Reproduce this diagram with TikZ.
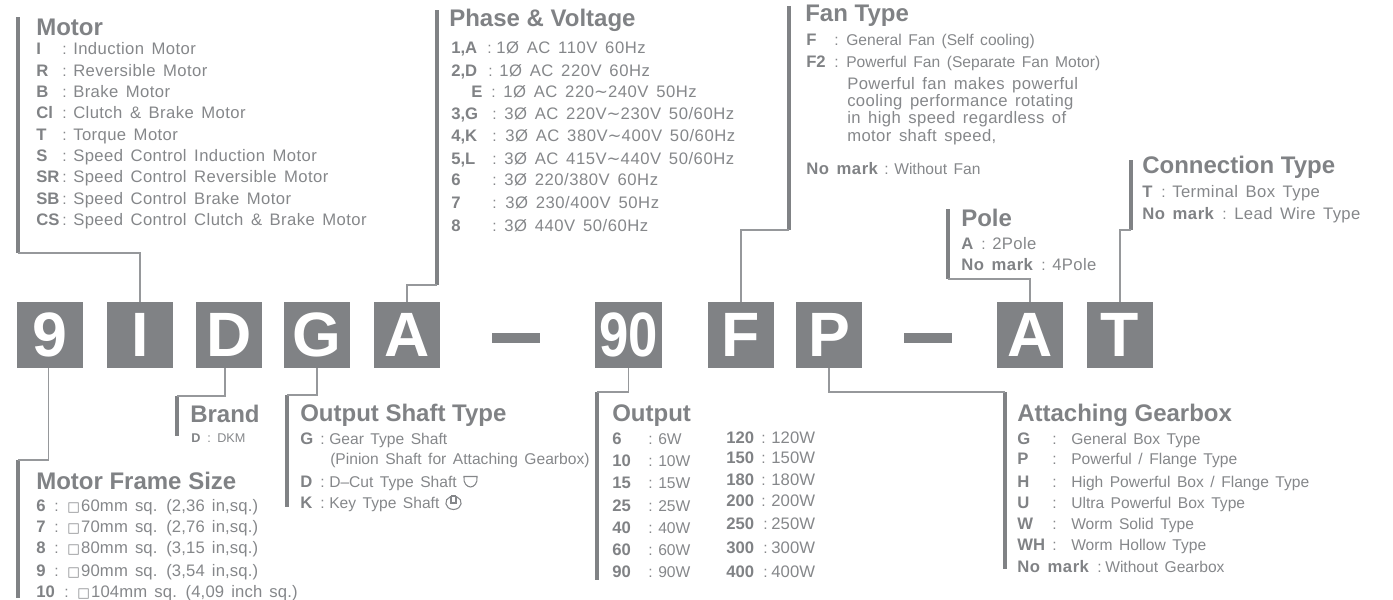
\documentclass[tikz,border=0pt]{standalone}
\usepackage{fontspec}
\setmainfont{Liberation Sans}[WordSpace=1.5]
\newfontfamily\symfont{DejaVu Sans}
\newfontfamily\headfont{Liberation Sans}
\newcommand{\waveto}{{\symfont ∼}}
\usepackage{xcolor}
\definecolor{boxgray}{HTML}{808285}
\definecolor{textgray}{HTML}{85878A}
\definecolor{rulegray}{HTML}{96989B}
\tikzset{
  letterbox/.style={fill=boxgray,text=white,inner sep=0pt,minimum width=49.5pt,minimum height=49.5pt,font=\fontsize{47}{47}\selectfont\bfseries},
  dashbox/.style={fill=boxgray,inner sep=0pt},
  headtext/.style={anchor=base west,yshift=-6.3pt,inner sep=0pt,text=boxgray,font=\fontsize{18}{20}\selectfont\headfont\bfseries},
  keytext/.style={anchor=base west,yshift=-5pt,inner sep=0pt,text=boxgray,font=\fontsize{12.5}{14}\selectfont\bfseries},
  markkey/.style={keytext,font=\fontsize{12.5}{14}\selectfont\bfseries\addfontfeature{LetterSpace=3}},
  valtext/.style={anchor=base west,yshift=-5pt,inner sep=0pt,text=textgray,font=\fontsize{11.7}{14}\selectfont},
  wideval/.style={valtext,font=\fontsize{12.5}{14}\selectfont\addfontfeature{LetterSpace=2.4}},
  phaseval/.style={valtext,font=\fontsize{12.5}{14}\selectfont\addfontfeature{LetterSpace=3.2}},
  frameval/.style={valtext,font=\fontsize{12.5}{14}\selectfont\addfontfeature{LetterSpace=0.8}},
  smalltext/.style={anchor=base west,yshift=-3.8pt,inner sep=0pt,text=textgray,font=\fontsize{9.5}{11}\selectfont},
  thinrule/.style={rulegray,line width=1.1pt},
  thickbar/.style={boxgray,line width=2.6pt}
}
\begin{document}
\begin{tikzpicture}[x=0.75pt,y=-0.75pt]
    \useasboundingbox (0,0) rectangle (1393,600);
    % Code letters
    \foreach \x/\k/\n in {50/9/nine,140/I/motor,229/D/brand,317/G/shaft,407/A/phase,741/F/fan,829/P/gear,1030/A/pole,1120/T/conn}{
      \node[letterbox] (box\n) at (\x,335) {\k};
    }
    \node[letterbox,minimum width=50.5pt] (boxout) at (628.5,335) {\scalebox{0.84}[1]{90}};
    \node[dashbox,minimum width=36pt,minimum height=8pt] (dashone) at (516,338) {};
    \node[dashbox,minimum width=36pt,minimum height=8pt] (dashtwo) at (928,338) {};
    % Motor
    \coordinate (motortop) at (18,17);
    \coordinate (motorfoot) at (18,253);
    \draw[thickbar] (motortop) -- (motorfoot);
    \draw[thinrule] (boxmotor.north) |- (motorfoot);
    \node[headtext] (motorhead) at (36,27) {Motor};
    \foreach \y/\k/\t [count=\i] in {48/I/Induction Motor,70/R/Reversible Motor,91/B/Brake Motor,112/Cl/Clutch \& Brake Motor,134/T/Torque Motor,155/S/Speed Control Induction Motor,176/SR/Speed Control Reversible Motor,198/SB/Speed Control Brake Motor,219/CS/Speed Control Clutch \& Brake Motor}{
      \node[keytext] (motorkey\i) at (36,\y) {\k};
      \node[valtext] (motorsep\i) at (62,\y) {:};
      \node[wideval] (motorval\i) at (73,\y) {\t};
    }
    % Phase and voltage
    \coordinate (phasetop) at (437,10);
    \coordinate (phasefoot) at (437,285);
    \draw[thickbar] (phasetop) -- (phasefoot);
    \draw[thinrule] (boxphase.north) |- (phasefoot);
    \node[headtext] (phasehead) at (449,18) {Phase \& Voltage};
    \foreach \y/\k/\c/\v/\t [count=\i] in {47/{1,A}/487/496/{1Ø AC 110V 60Hz},70/{2,D}/488/499/{1Ø AC 220V 60Hz},113/{3,G}/492/504/{3Ø AC 220V\waveto 230V 50/60Hz},135/{4,K}/492/505/{3Ø AC 380V\waveto 400V 50/60Hz},158/{5,L}/492/504/{3Ø AC 415V\waveto 440V 50/60Hz},179/6/492/504/{3Ø 220/380V 60Hz},202/7/492/505/{3Ø 230/400V 50Hz},225/8/492/504/{3Ø 440V 50/60Hz}}{
      \node[keytext] (phasekey\i) at (451,\y) {\k};
      \node[valtext] (phasesep\i) at (\c,\y) {:};
      \node[phaseval] (phaseval\i) at (\v,\y) {\t};
    }
    \node[keytext] (phasekeyE) at (471,91) {E};
    \node[valtext] (phasesepE) at (491,91) {:};
    \node[phaseval] (phasevalE) at (503,91) {1Ø AC 220\waveto 240V 50Hz};
    % Fan type
    \coordinate (fantop) at (789,6);
    \coordinate (fanfoot) at (789,230);
    \draw[thickbar] (fantop) -- (fanfoot);
    \draw[thinrule] (boxfan.north) |- (fanfoot);
    \node[headtext] (fanhead) at (805,13) {Fan Type};
    \node[keytext] (fankey1) at (806,39) {F};
    \node[valtext] (fansep1) at (834,39) {:};
    \node[valtext] (fanval1) at (846,39) {General Fan (Self cooling)};
    \node[keytext] (fankey2) at (806,61) {F2};
    \node[valtext] (fansep2) at (834,61) {:};
    \node[valtext] (fanval2) at (846,61) {Powerful Fan (Separate Fan Motor)};
    \foreach \y/\t [count=\i] in {83/Powerful fan makes powerful,100/cooling performance rotating,117/in high speed regardless of,135/{motor shaft speed,}}{
      \node[wideval] (fannote\i) at (847,\y) {\t};
    }
    \node[markkey] (fankey3) at (806,168) {No mark};
    \node[valtext] (fansep3) at (884,168) {:};
    \node[valtext] (fanval3) at (894,168) {Without Fan};
    % Pole
    \coordinate (poletop) at (948,209);
    \coordinate (polefoot) at (948,279);
    \draw[thickbar] (poletop) -- (polefoot);
    \draw[thinrule] (boxpole.north) |- (polefoot);
    \node[headtext] (polehead) at (961,218) {Pole};
    \node[keytext] (polekey1) at (961,243) {A};
    \node[valtext] (polesep1) at (981,243) {:};
    \node[wideval] (poleval1) at (992,243) {2Pole};
    \node[markkey] (polekey2) at (961,264) {No mark};
    \node[valtext] (polesep2) at (1041,264) {:};
    \node[wideval] (poleval2) at (1052,264) {4Pole};
    % Connection type
    \coordinate (conntop) at (1131,160);
    \coordinate (connfoot) at (1131,230);
    \draw[thickbar] (conntop) -- (connfoot);
    \draw[thinrule] (boxconn.north) |- (connfoot);
    \node[headtext] (connhead) at (1142,165) {Connection Type};
    \node[keytext] (connkey1) at (1142,191) {T};
    \node[valtext] (connsep1) at (1161,191) {:};
    \node[wideval] (connval1) at (1172,191) {Terminal Box Type};
    \node[markkey] (connkey2) at (1142,213) {No mark};
    \node[valtext] (connsep2) at (1222,213) {:};
    \node[wideval] (connval2) at (1234,213) {Lead Wire Type};
    % Motor frame size
    \coordinate (frametop) at (18,460);
    \coordinate (framefoot) at (18,598);
    \draw[thickbar] (frametop) -- (framefoot);
    \draw[thinrule] ([xshift=-1pt]boxnine.south) |- (frametop);
    \node[headtext] (framehead) at (36,481) {Motor Frame Size};
    \foreach \y/\k/\t [count=\i] in {505/6/60mm sq. (2{,}36 in{,}sq.),526/7/70mm sq. (2{,}76 in{,}sq.),547/8/80mm sq. (3{,}15 in{,}sq.),570/9/90mm sq. (3{,}54 in{,}sq.)}{
      \node[keytext] (framekey\i) at (36,\y) {\k};
      \node[valtext] (framesep\i) at (54,\y) {:};
      \node[frameval] (frameval\i) at (67,\y) {{\symfont\fontsize{10}{10}\selectfont □}\hspace{1pt}\t};
    }
    \node[keytext] (framekey5) at (36,591) {10};
    \node[valtext] (framesep5) at (64,591) {:};
    \node[frameval] (frameval5) at (77,591) {{\symfont\fontsize{10}{10}\selectfont □}\hspace{1pt}104mm sq. (4{,}09 inch sq.)};
    % Brand
    \coordinate (brandtop) at (177,396);
    \coordinate (brandfoot) at (177,436);
    \draw[thickbar] (brandtop) -- (brandfoot);
    \draw[thinrule] ([xshift=-3pt]boxbrand.south) |- (brandtop);
    \node[headtext] (brandhead) at (190,414) {Brand};
    \node[keytext,yshift=1.2pt,font=\fontsize{9.5}{11}\selectfont\bfseries] (brandkey) at (191,437) {D};
    \node[smalltext] (brandsep) at (207,437) {:};
    \node[smalltext] (brandval) at (217,437) {DKM};
    % Output shaft type
    \coordinate (shafttop) at (287,395);
    \coordinate (shaftfoot) at (287,507);
    \draw[thickbar] (shafttop) -- (shaftfoot);
    \draw[thinrule] (boxshaft.south) |- (shafttop);
    \node[headtext] (shafthead) at (300,413) {Output Shaft Type};
    \foreach \y/\k/\t [count=\i] in {438/G/Gear Type Shaft,481/D/D--Cut Type Shaft,502/K/Key Type Shaft}{
      \node[keytext] (shaftkey\i) at (300,\y) {\k};
      \node[valtext] (shaftsep\i) at (320,\y) {:};
      \node[valtext] (shaftval\i) at (329,\y) {\t};
    }
    \node[valtext] (shaftnote) at (330,458) {(Pinion Shaft for Attaching Gearbox)};
    \draw[textgray,line width=0.8pt] (464,476.5) -- (477,476.5) .. controls (478,483) and (474,487) .. (470.5,487) .. controls (467,487) and (463,483) .. (464,476.5) -- cycle;
    \draw[textgray,line width=0.8pt] (450,497) .. controls (444,499) and (444,509) .. (453.5,509.5) .. controls (463,509) and (463,499) .. (457,497);
    \draw[textgray,line width=0.8pt] (451,496) -- (456,496) (451,496) -- (451,503) -- (456,503) -- (456,496);
    % Output
    \coordinate (outtop) at (597,392);
    \coordinate (outfoot) at (597,580);
    \draw[thickbar] (outtop) -- (outfoot);
    \draw[thinrule] (boxout.south) |- (outtop);
    \node[headtext] (outhead) at (612,413) {Output};
    \foreach \y/\k [count=\i] in {438/6,460/10,482/15,505/25,527/40,549/60,571/90}{
      \node[keytext] (outkey\i) at (612,\y) {\k};
      \node[valtext] (outsep\i) at (648,\y) {:};
      \node[valtext] (outval\i) at (658,\y) {\k W};
    }
    \foreach \y/\k/\c [count=\i] in {437/120/761,457/150/761,479/180/761,500/200/761,523/250/763,547/300/763,571/400/763}{
      \node[keytext] (outkeyb\i) at (726,\y) {\k};
      \node[valtext] (outsepb\i) at (\c,\y) {:};
      \node[frameval] (outvalb\i) at (771,\y) {\k W};
    }
    % Attaching gearbox
    \coordinate (geartop) at (1005,392);
    \coordinate (gearfoot) at (1005,569);
    \draw[thickbar] (geartop) -- (gearfoot);
    \draw[thinrule] (boxgear.south) |- (geartop);
    \node[headtext] (gearhead) at (1017,413) {Attaching Gearbox};
    \foreach \y/\k/\t [count=\i] in {438/G/General Box Type,458/P/{Powerful / Flange Type},481/H/{High Powerful Box / Flange Type},502/U/Ultra Powerful Box Type,523/W/Worm Solid Type,544/WH/Worm Hollow Type}{
      \node[keytext] (gearkey\i) at (1017,\y) {\k};
      \node[valtext] (gearsep\i) at (1052,\y) {:};
      \node[valtext] (gearval\i) at (1071,\y) {\t};
    }
    \node[markkey] (gearkey7) at (1017,566) {No mark};
    \node[valtext] (gearsep7) at (1097,566) {:};
    \node[valtext] (gearval7) at (1105,566) {Without Gearbox};
\end{tikzpicture}
\end{document}
